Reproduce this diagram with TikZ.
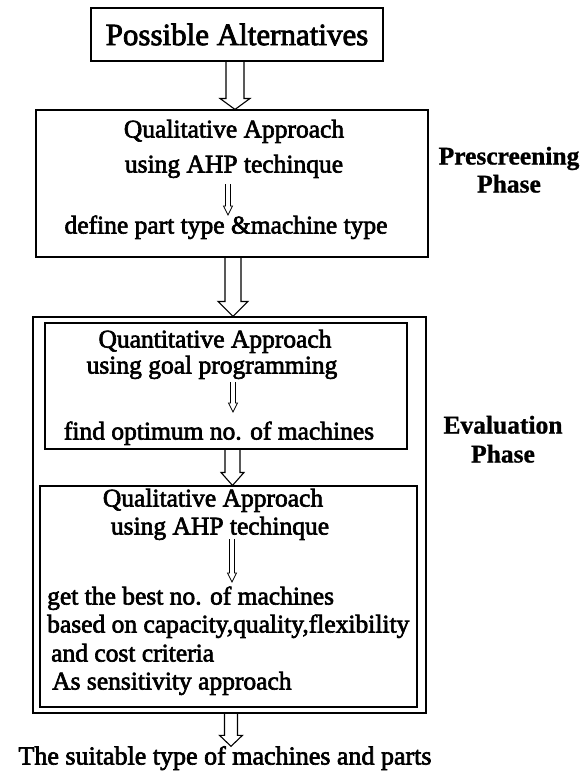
\documentclass[tikz,border=0pt]{standalone}
\usepackage{fontspec}
\setmainfont{Liberation Serif}
\newfontfamily\scanfont{Liberation Serif}[FakeBold=2.5]
\newfontfamily\scanbold{Liberation Serif Bold}[FakeBold=1]
\usetikzlibrary{calc}
% #1 from, #2 to (tip), #3 shaft half width, #4 head half width, #5 head length, #6 style
\newcommand\blockarrow[6]{%
  \draw[#6] let \p1=#1, \p2=#2 in
   (\x1-#3,\y1) -- (\x1-#3,\y2+#5) -- (\x1-#4,\y2+#5) -- (\x1,\y2)
   -- (\x1+#4,\y2+#5) -- (\x1+#3,\y2+#5) -- (\x1+#3,\y1);}
\tikzset{
  box/.style={draw, line width=1.1pt, inner sep=0pt},
  txt/.style={inner sep=0pt, font=\scanfont\fontsize{25.5}{28}\selectfont, text height=18pt, text depth=5pt},
  phase/.style={txt, font=\scanbold\fontsize{25.5}{28}\selectfont},
  bigarrow/.style={line width=1.1pt},
  smallarrow/.style={line width=0.8pt},
}
\begin{document}
\begin{tikzpicture}[x=1pt, y=-1pt]
\useasboundingbox (0,0) rectangle (588,772);

% boxes
\node[box, font=\scanfont\fontsize{31}{34}\selectfont, minimum width=292pt, minimum height=53pt] (b1) at (237,34.5) {Possible Alternatives};
\node[box, minimum width=392pt, minimum height=147pt] (b2) at (232,183.5) {};
\node[box, minimum width=393pt, minimum height=396pt] (b3) at (229.5,515) {};
\node[box, minimum width=362pt, minimum height=126pt] (ba) at (226,386) {};
\node[box, minimum width=377pt, minimum height=221pt] (bb) at (228.5,596.5) {};

% prescreening box texts
\node[txt] (p1) at (234,131) {Qualitative Approach};
\node[txt] (p2) at (234,166) {using AHP techinque};
\node[txt] (p3) at (226,227) {define part type \&machine type};
\coordinate (p2s) at (228,184);
\coordinate (p3n) at (228,215);

% quantitative box texts
\node[txt] (a1) at (215,341) {Quantitative Approach};
\node[txt] (a2) at (212,367) {using goal programming};
\node[txt] (a3) at (219,433) {find optimum no. of machines};
\coordinate (a2s) at (233,382);
\coordinate (a3n) at (233,412);

% qualitative box texts
\node[txt] (c1) at (213,500) {Qualitative Approach};
\node[txt] (c2) at (220,528) {using AHP techinque};
\node[txt, anchor=west] (c3) at (47,598) {get the best no. of machines};
\node[txt, anchor=west] (c4) at (47,626) {based on capacity,quality,flexibility};
\node[txt, anchor=west] (c5) at (51,655) {and cost criteria};
\node[txt, anchor=west] (c6) at (52,683) {As sensitivity approach};
\coordinate (c2s) at (232,539);
\coordinate (c3n) at (232,582);

% bottom text
\node[txt, font=\scanfont\fontsize{26}{28}\selectfont] (bt) at (225,758) {The suitable type of machines and parts};

% phase labels
\node[phase] (ph1) at (509,158) {Prescreening};
\node[phase] (ph2) at (509,186) {Phase};
\node[phase] (ph3) at (503,427) {Evaluation};
\node[phase] (ph4) at (503,456) {Phase};

% big arrows
\blockarrow{($(b1.south)+(-2,0)$)}{(b2.north)}{9pt}{15pt}{11pt}{bigarrow}
\blockarrow{($(b2.south)+(1,0)$)}{(b3.north)}{8pt}{15pt}{15pt}{bigarrow}
\blockarrow{($(ba.south)+(6.5,0)$)}{(bb.north)}{7.5pt}{11.5pt}{13pt}{bigarrow}
\blockarrow{($(b3.south)+(1.5,0)$)}{(bt.north)}{6.5pt}{11.5pt}{11pt}{bigarrow}

% small arrows
\blockarrow{(p2s)}{(p3n)}{2.5pt}{4.5pt}{9pt}{smallarrow}
\blockarrow{(a2s)}{(a3n)}{2.5pt}{4.5pt}{9pt}{smallarrow}
\blockarrow{(c2s)}{(c3n)}{2.5pt}{4.5pt}{9pt}{smallarrow}
\end{tikzpicture}
\end{document}
